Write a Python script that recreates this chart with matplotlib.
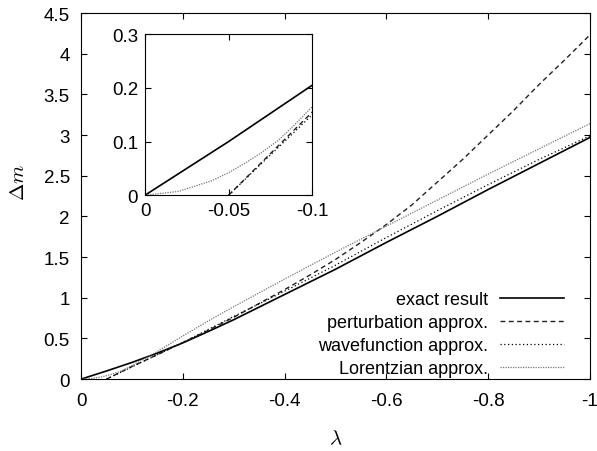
import matplotlib
matplotlib.use("Agg")
import matplotlib.pyplot as plt

plt.rcParams['font.family'] = ['Liberation Sans', 'DejaVu Sans']
plt.rcParams['mathtext.fontset'] = 'cm'

# values
lam_exact = [0, -0.05, -0.1, -0.15, -0.2, -0.25, -0.3, -0.35, -0.4, -0.5, -0.6, -0.7, -0.8, -0.9, -1.0]
exact = [0, 0.10, 0.205, 0.32, 0.445, 0.585, 0.73, 0.885, 1.04, 1.35, 1.68, 2.00, 2.33, 2.65, 2.97]

lam_pert = [-0.05, -0.1, -0.15, -0.2, -0.25, -0.3, -0.35, -0.4, -0.45, -0.5, -0.55, -0.6,
            -0.65, -0.7, -0.75, -0.8, -0.85, -0.9, -0.95, -1.0]
pert = [0, 0.155, 0.30, 0.45, 0.60, 0.76, 0.93, 1.10, 1.28, 1.47, 1.68, 1.90,
        2.14, 2.42, 2.70, 3.00, 3.30, 3.62, 3.92, 4.23]

lam_wave = [-0.05, -0.1, -0.15, -0.2, -0.25, -0.3, -0.4, -0.5, -0.6, -0.7, -0.8, -0.9, -1.0]
wave = [0, 0.15, 0.30, 0.45, 0.61, 0.77, 1.08, 1.40, 1.74, 2.07, 2.39, 2.70, 2.99]

lam_lor = [0, -0.02, -0.04, -0.05, -0.06, -0.07, -0.08, -0.09, -0.1, -0.13, -0.15, -0.2,
           -0.25, -0.3, -0.4, -0.5, -0.6, -0.7, -0.8, -0.9, -1.0]
lor = [0, 0.007, 0.027, 0.042, 0.06, 0.08, 0.103, 0.133, 0.165, 0.27, 0.34, 0.53,
       0.715, 0.89, 1.23, 1.56, 1.88, 2.20, 2.52, 2.83, 3.14]

main_xticks = [0, -0.2, -0.4, -0.6, -0.8, -1.0]
main_xlabels = ['0', '-0.2', '-0.4', '-0.6', '-0.8', '-1']
main_yticks = [0, 0.5, 1, 1.5, 2, 2.5, 3, 3.5, 4, 4.5]
main_ylabels = ['0', '0.5', '1', '1.5', '2', '2.5', '3', '3.5', '4', '4.5']
ins_xticks = [0, -0.05, -0.1]
ins_xlabels = ['0', '-0.05', '-0.1']
ins_yticks = [0, 0.1, 0.2, 0.3]
ins_ylabels = ['0', '0.1', '0.2', '0.3']


def draw(ax):
    ax.plot(lam_exact, exact, color='black', lw=1.2, label='exact result')
    ax.plot(lam_pert, pert, color='#222222', lw=1.0, linestyle=(0, (3.5, 2.5)),
            label='perturbation approx.')
    ax.plot(lam_wave, wave, color='black', lw=0.9, linestyle=(0, (1, 2)),
            label='wavefunction approx.')
    ax.plot(lam_lor, lor, color='#777777', lw=0.9, linestyle=(0, (1, 1)),
            label='Lorentzian approx.')
    ax.tick_params(direction='in', top=True, right=True, length=4)


fig = plt.figure(figsize=(5.97, 4.52), dpi=100)
ax = fig.add_axes([0.1357, 0.159, 0.8523, 0.810])
draw(ax)
ax.set_xlim(0, -1)
ax.set_ylim(0, 4.5)
ax.set_xticks(main_xticks)
ax.set_xticklabels(main_xlabels)
ax.set_yticks(main_yticks)
ax.set_yticklabels(main_ylabels)
ax.tick_params(axis='x', labelsize=13.5, pad=9)
ax.tick_params(axis='y', labelsize=13.5, pad=8)
ax.set_xlabel(r'$\lambda$', fontsize=15, labelpad=14)
ax.set_ylabel(r'$\Delta m$', fontsize=15)
ax.yaxis.set_label_coords(-0.105, 0.54)
ax.legend(loc='lower right', markerfirst=False, frameon=False, fontsize=13,
          handlelength=3.55, handletextpad=0.65, labelspacing=0.33,
          borderaxespad=0, borderpad=0, bbox_to_anchor=(0.949, 0.005))

ins = fig.add_axes([0.243, 0.566, 0.280, 0.356])
draw(ins)
ins.set_xlim(0, -0.1)
ins.set_ylim(0, 0.3)
ins.set_xticks(ins_xticks)
ins.set_xticklabels(ins_xlabels)
ins.set_yticks(ins_yticks)
ins.set_yticklabels(ins_ylabels)
ins.tick_params(labelsize=13.5, pad=5)

fig.savefig('out.png', dpi=100)
